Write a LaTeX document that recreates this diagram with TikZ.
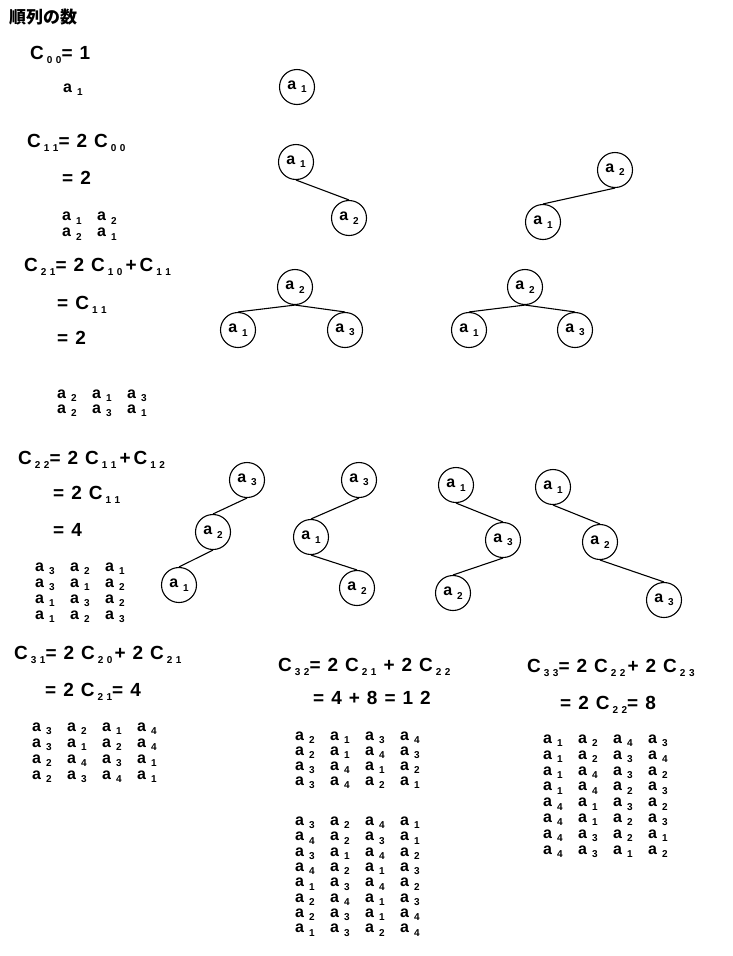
\documentclass[tikz,border=0pt]{standalone}
\usepackage{fontspec}
\setmainfont{Liberation Sans}
\newfontfamily\cjk{Noto Sans CJK JP}
\newcommand{\eqfont}{\bfseries\fontsize{19}{20}\selectfont\spaceskip=7pt}
\newcommand{\lsfont}{\bfseries\fontsize{16}{16}\selectfont}
\newcommand{\ix}[1]{\raisebox{-0.4ex}{\fontsize{10}{10}\selectfont\bfseries #1}}
\newcommand{\cc}[2]{C\hspace{3pt}\ix{#1\hspace{3.5pt}#2}}
\newcommand{\pl}{\hspace{3pt}+\hspace{3pt}}
\newcommand{\pa}[1]{\makebox[35pt][l]{a\hspace{5pt}\ix{#1}}}
\newcommand{\pr}[1]{\foreach \d in #1{\pa{\d}}}
\tikzset{
  knot/.style={draw, circle, line width=1.1pt, minimum size=35pt, inner sep=0pt, font=\lsfont},
  link/.style={line width=1.1pt},
  eqn/.style={anchor=west, inner sep=0pt, font=\eqfont},
  prow/.style={anchor=west, inner sep=0pt, font=\lsfont},
}
\newcommand{\knotat}[3]{\node[knot] (#1) at (#2) {a\hspace{5pt}\ix{#3}};}

\begin{document}
\begin{tikzpicture}[x=1pt,y=-1pt]
  \useasboundingbox (0,0) rectangle (732,956);
  % title
  \node[anchor=west, inner sep=0pt, font=\cjk\bfseries\fontsize{17}{17}\selectfont] (title) at (9,17) {順列の数};

  % equations
  \node[eqn] (e00)  at (30,55)  {\cc00= 1};
  \node[eqn] (e11)  at (27,143) {\cc11= 2 \cc00};
  \node[eqn] (e11b) at (62,178) {= 2};
  \node[eqn] (e21)  at (24,267) {\cc21= 2 \cc10\pl\cc11};
  \node[eqn] (e21b) at (57,305) {= \cc11};
  \node[eqn] (e21c) at (57,338) {= 2};
  \node[eqn] (e22)  at (18,460) {\cc22= 2 \cc11\pl\cc12};
  \node[eqn] (e22b) at (53,495) {= 2 \cc11};
  \node[eqn] (e22c) at (53,530) {= 4};
  \node[eqn] (e31)  at (14,655) {\cc31= 2 \cc20\hspace{2pt}+ 2 \cc21};
  \node[eqn] (e31b) at (45,692) {= 2 \cc21= 4};
  \node[eqn] (e32)  at (278,667) {\cc32= 2 \cc21 + 2 \cc22};
  \node[eqn] (e32b) at (313,698) {= 4 + 8 = 1 2};
  \node[eqn] (e33)  at (527,668) {\cc33= 2 \cc22\hspace{2pt}+ 2 \cc23};
  \node[eqn] (e33b) at (560,705) {= 2 \cc22= 8};

  % permutations
  \node[prow] (l00) at (63,90) {\pa{1}};
  \foreach \r [count=\i from 0] in {{1,2},{2,1}}
    \node[prow] (l11-\i) at (62,218+16*\i) {\pr{\r}};
  \foreach \r [count=\i from 0] in {{2,1,3},{2,3,1}}
    \node[prow] (l21-\i) at (57,396+15*\i) {\pr{\r}};
  \foreach \r [count=\i from 0] in {{3,2,1},{3,1,2},{1,3,2},{1,2,3}}
    \node[prow] (l22-\i) at (35,569+16*\i) {\pr{\r}};
  \foreach \r [count=\i from 0] in {{3,2,1,4},{3,1,2,4},{2,4,3,1},{2,3,4,1}}
    \node[prow] (l31-\i) at (32,729+16*\i) {\pr{\r}};
  \foreach \r [count=\i from 0] in {{2,1,3,4},{2,1,4,3},{3,4,1,2},{3,4,2,1}}
    \node[prow] (l32-\i) at (295,738+15*\i) {\pr{\r}};
  \foreach \r [count=\i from 0] in {{3,2,4,1},{4,2,3,1},{3,1,4,2},{4,2,1,3},{1,3,4,2},{2,4,1,3},{2,3,1,4},{1,3,2,4}}
    \node[prow] (m32-\i) at (295,823+15.3*\i) {\pr{\r}};
  \foreach \r [count=\i from 0] in {{1,2,4,3},{1,2,3,4},{1,4,3,2},{1,4,2,3},{4,1,3,2},{4,1,2,3},{4,3,2,1},{4,3,1,2}}
    \node[prow] (l33-\i) at (543,741+15.8*\i) {\pr{\r}};

  % trees
  \knotat{t00}{297,87}{1}
  \knotat{t11a}{296,162}{1} \knotat{t11b}{349,218}{2}
  \knotat{t11c}{615,170}{2} \knotat{t11d}{543,222}{1}
  \knotat{t21a}{295,287}{2} \knotat{t21b}{238,330}{1} \knotat{t21c}{345,330}{3}
  \knotat{t21d}{525,287}{2} \knotat{t21e}{469,330}{1} \knotat{t21f}{575,330}{3}
  \knotat{t22a}{247,480}{3} \knotat{t22b}{213,532}{2} \knotat{t22c}{179,585}{1}
  \knotat{t22d}{359,480}{3} \knotat{t22e}{311,537}{1} \knotat{t22f}{357,588}{2}
  \knotat{t22g}{456,485}{1} \knotat{t22h}{503,540}{3} \knotat{t22i}{453,593}{2}
  \knotat{t22j}{553,487}{1} \knotat{t22k}{600,542}{2} \knotat{t22l}{664,600}{3}

  \foreach \p/\c in {t11a/t11b, t11c/t11d, t21a/t21b, t21a/t21c, t21d/t21e, t21d/t21f,
                     t22a/t22b, t22b/t22c, t22d/t22e, t22e/t22f, t22g/t22h, t22h/t22i,
                     t22j/t22k, t22k/t22l}
    \draw[link] (\p.south) -- (\c.north);
\end{tikzpicture}
\end{document}
